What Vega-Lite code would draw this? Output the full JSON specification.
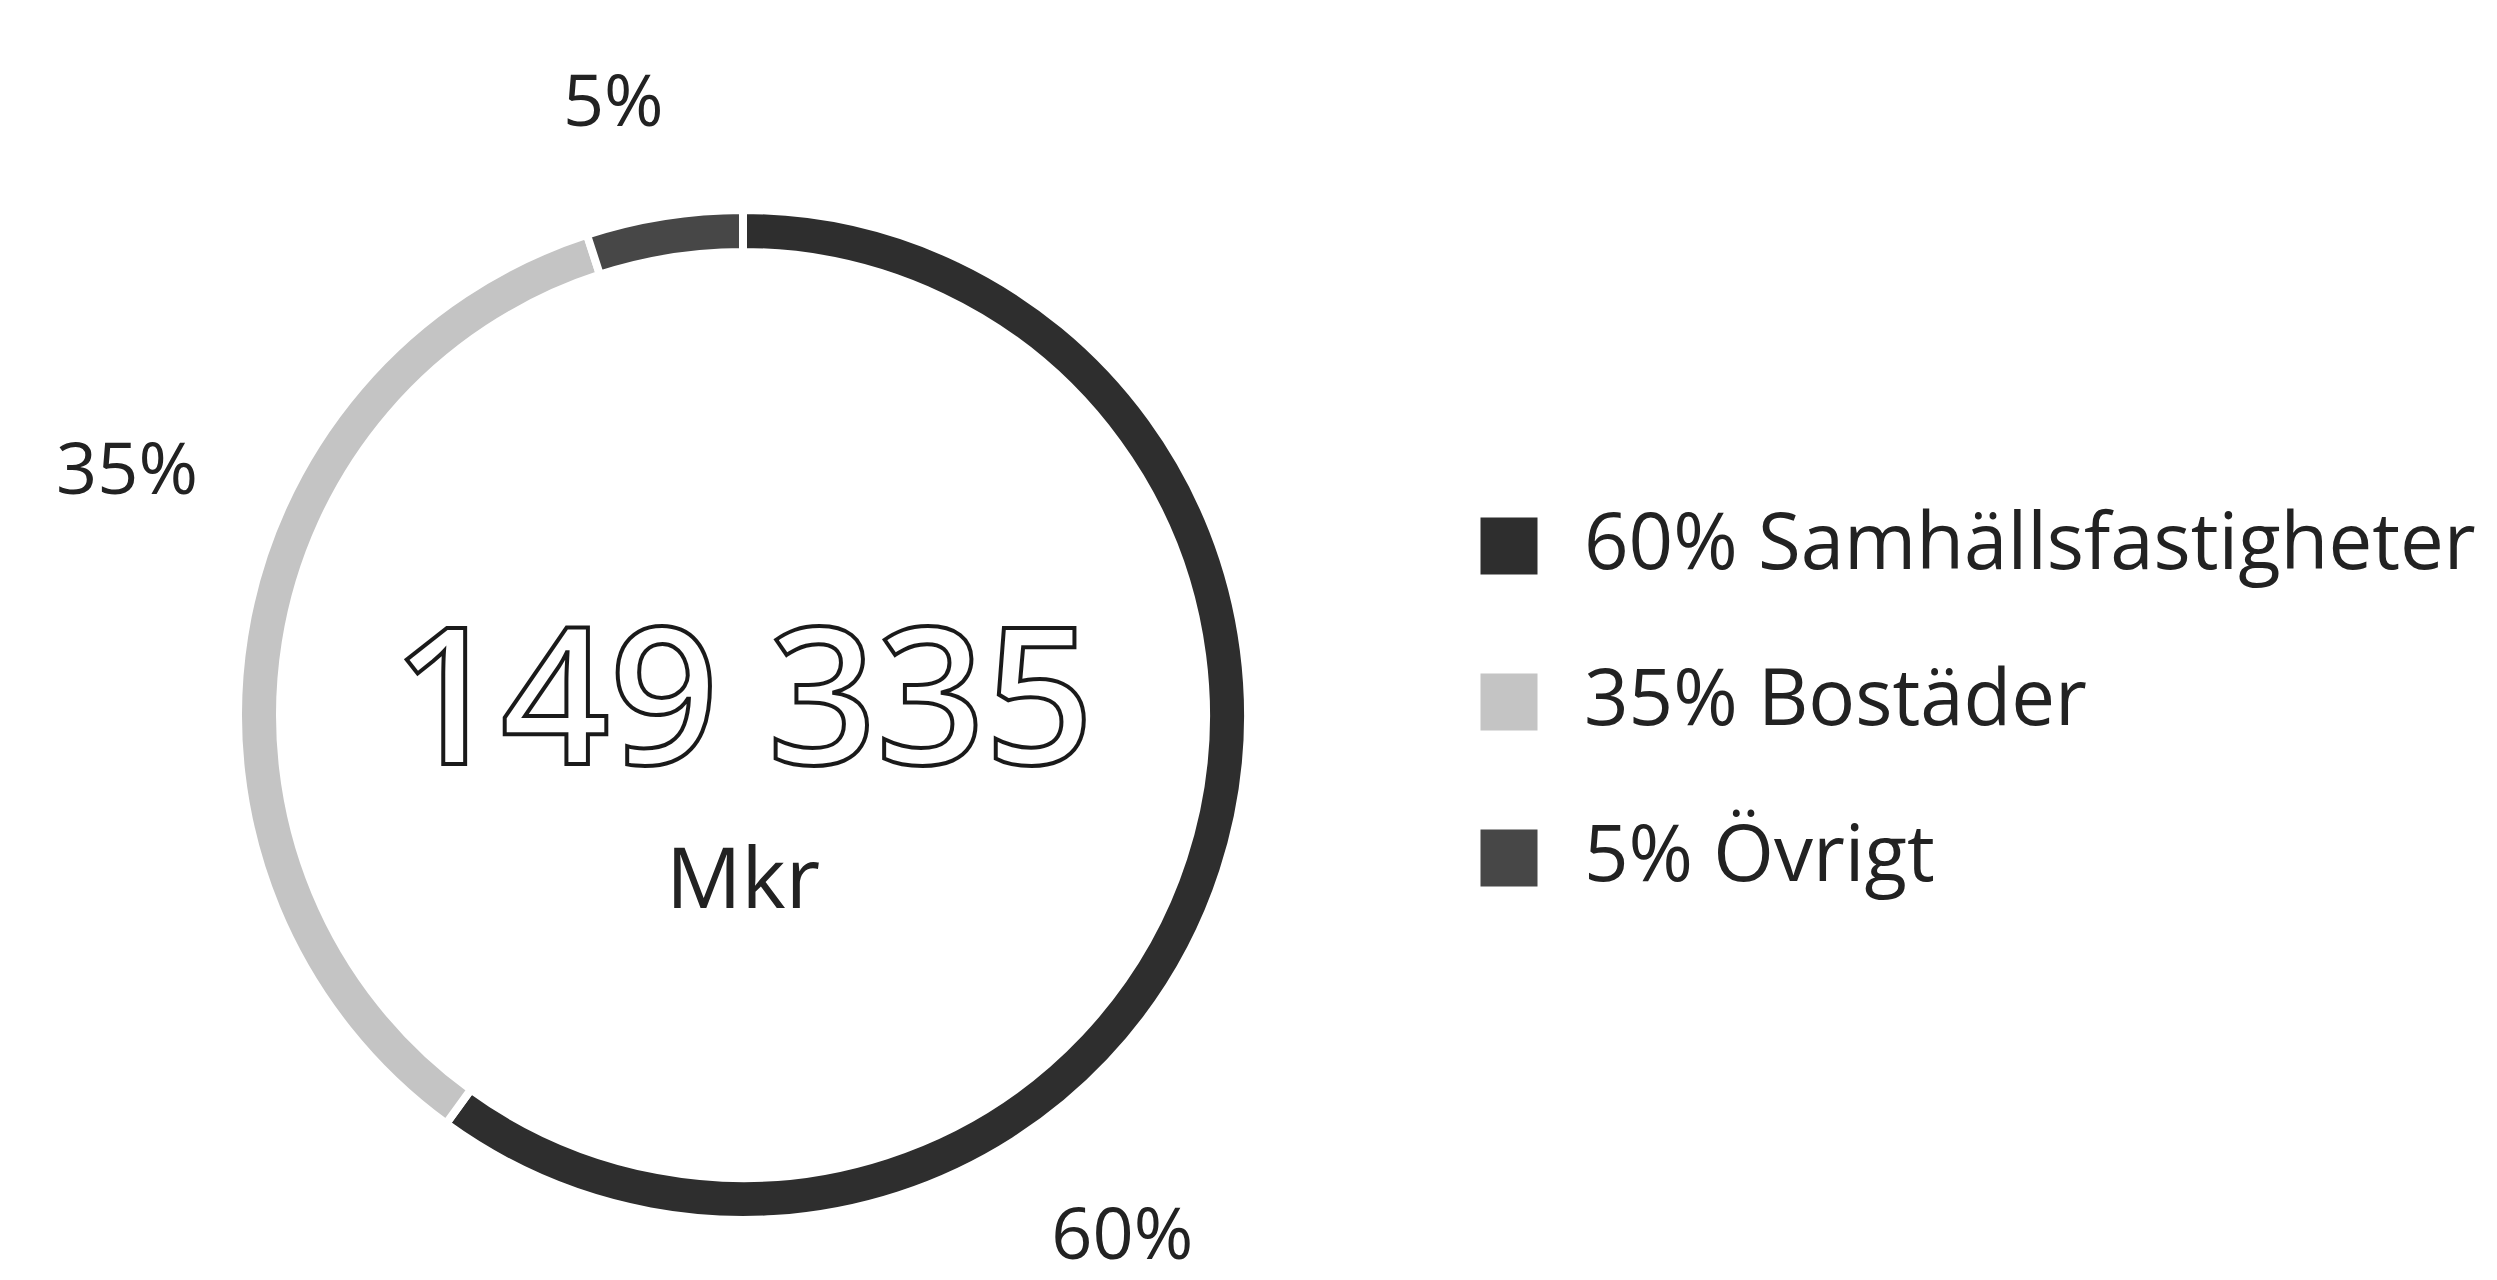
{
  "$schema": "https://vega.github.io/schema/vega-lite/v6.json",
  "width": 1486,
  "height": 1130,
  "autosize": {"type": "none"},
  "padding": {"left": 0, "top": 150, "right": 1011, "bottom": 0},
  "background": "white",
  "config": {"view": {"stroke": null}, "font": "Open Sans"},
  "datasets": {
    "andelar": [
      {"kategori": "60% Samhällsfastigheter", "andel": 60, "etikett": "60%", "ordning": 1},
      {"kategori": "35% Bostäder", "andel": 35, "etikett": "35%", "ordning": 2},
      {"kategori": "5% Övrigt", "andel": 5, "etikett": "5%", "ordning": 3}
    ],
    "centrum": [{"tall": "149 335", "enhet": "Mkr"}]
  },
  "data": {"name": "andelar"},
  "encoding": {
    "theta": {"field": "andel", "type": "quantitative", "stack": true},
    "order": {"field": "ordning", "type": "quantitative"}
  },
  "layer": [
    {
      "mark": {"type": "arc", "outerRadius": 505, "innerRadius": 463, "stroke": "white", "strokeWidth": 8},
      "encoding": {
        "color": {
          "field": "kategori",
          "type": "nominal",
          "sort": ["60% Samhällsfastigheter", "35% Bostäder", "5% Övrigt"],
          "scale": {"domain": ["60% Samhällsfastigheter", "35% Bostäder", "5% Övrigt"], "range": ["#2e2e2e", "#c4c4c4", "#474747"]},
          "legend": {
            "title": null,
            "orient": "none",
            "legendX": 1470,
            "legendY": 357,
            "symbolType": "square",
            "symbolSize": 3249,
            "symbolStrokeWidth": 0,
            "labelFontSize": 78,
            "labelFont": "Open Sans",
            "labelColor": "#222222",
            "labelOffset": 36,
            "labelLimit": 1200,
            "rowPadding": 78
          }
        }
      }
    },
    {
      "mark": {"type": "text", "radius": 645, "thetaOffset": 0.628, "fontSize": 72, "fill": "#222222"},
      "encoding": {
        "text": {"condition": {"test": "datum.ordning == 1", "field": "etikett"}, "value": ""}
      }
    },
    {
      "mark": {"type": "text", "radius": 662, "thetaOffset": 0.218, "fontSize": 72, "fill": "#222222"},
      "encoding": {
        "text": {"condition": {"test": "datum.ordning == 2", "field": "etikett"}, "value": ""}
      }
    },
    {
      "mark": {"type": "text", "radius": 625, "thetaOffset": -0.052, "fontSize": 72, "fill": "#222222"},
      "encoding": {
        "text": {"condition": {"test": "datum.ordning == 3", "field": "etikett"}, "value": ""}
      }
    },
    {
      "data": {"name": "centrum"},
      "mark": {"type": "text", "fontSize": 190, "fontWeight": 600, "fill": "white", "stroke": "#1a1a1a", "strokeWidth": 4, "baseline": "alphabetic", "dy": 49},
      "encoding": {"theta": null, "order": null, "text": {"field": "tall"}}
    },
    {
      "data": {"name": "centrum"},
      "mark": {"type": "text", "fontSize": 84, "fill": "#222222", "baseline": "alphabetic", "dy": 193},
      "encoding": {"theta": null, "order": null, "text": {"field": "enhet"}}
    }
  ]
}
